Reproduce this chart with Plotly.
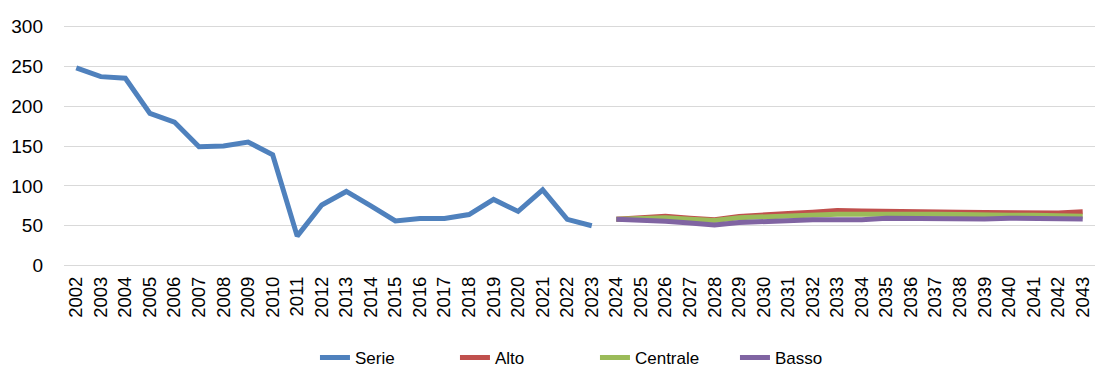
import plotly.graph_objects as go

years = [str(y) for y in range(2002, 2044)]

serie = [248, 237, 235, 191, 180, 149, 150, 155, 139, 37,
         76, 93, 75, 56, 59, 59, 64, 83, 68, 95, 58, 50]
alto = [58, 60.5, 62, 59.5, 57.5, 61.5, 64, 65.5, 67, 69,
        68.5, 68.5, 68, 67.5, 67, 66.5, 66, 66, 66, 67.5]
centrale = [58, 59, 60, 58, 56.5, 60, 61.5, 62, 63, 64.5,
            64.5, 65, 65, 64.5, 64, 63, 63, 63, 62.5, 62]
basso = [58, 57.5, 55.5, 53.5, 51, 54, 55.5, 57, 57.5, 57.5,
         57.5, 59.5, 59, 58.5, 58.5, 58.5, 59.5, 59.5, 58.5, 58.5]

n_hist = len(serie)
n_fc = len(alto)
pad_hist = [None] * (len(years) - n_hist)
pad_fc = [None] * (len(years) - n_fc)

series = [
    ("Serie", serie + pad_hist, "#4f81bd"),
    ("Alto", pad_fc + alto, "#c0504d"),
    ("Centrale", pad_fc + centrale, "#9bbb59"),
    ("Basso", pad_fc + basso, "#8064a2"),
]

fig = go.Figure()
for name, vals, color in series:
    fig.add_trace(go.Scatter(
        x=years, y=vals, name=name, mode="lines",
        line=dict(color=color, width=5),
        connectgaps=False,
    ))

font_family = "Liberation Sans, Arial, sans-serif"
fig.update_layout(
    width=1095, height=367,
    margin=dict(l=63.7, r=0, t=23.6, b=98.6, autoexpand=False),
    paper_bgcolor="white", plot_bgcolor="white",
    font=dict(family=font_family, color="#000000"),
    showlegend=True,
    legend=dict(
        orientation="h", x=0.515, xanchor="center", xref="paper",
        y=0.025, yanchor="middle", yref="container",
        font=dict(size=17, family=font_family),
        entrywidth=95, entrywidthmode="pixels",
        bgcolor="rgba(0,0,0,0)",
    ),
    xaxis=dict(
        type="category", range=[-0.5, 41.5],
        showgrid=False, zeroline=False, showline=False,
        tickangle=-90, tickfont=dict(size=18.5),
        ticks="", ticklabelstandoff=4, automargin=False,
    ),
    yaxis=dict(
        range=[-3, 303], tickvals=[0, 50, 100, 150, 200, 250, 300],
        showgrid=True, gridcolor="#d9d9d9", gridwidth=1.3,
        zeroline=False, showline=False, ticks="",
        tickfont=dict(size=19), ticklabelstandoff=20, automargin=False,
    ),
)

fig.write_html(
    "out.html",
    config={"displayModeBar": False},
    post_script="document.body.style.margin='0';document.body.style.overflow='hidden';",
)
